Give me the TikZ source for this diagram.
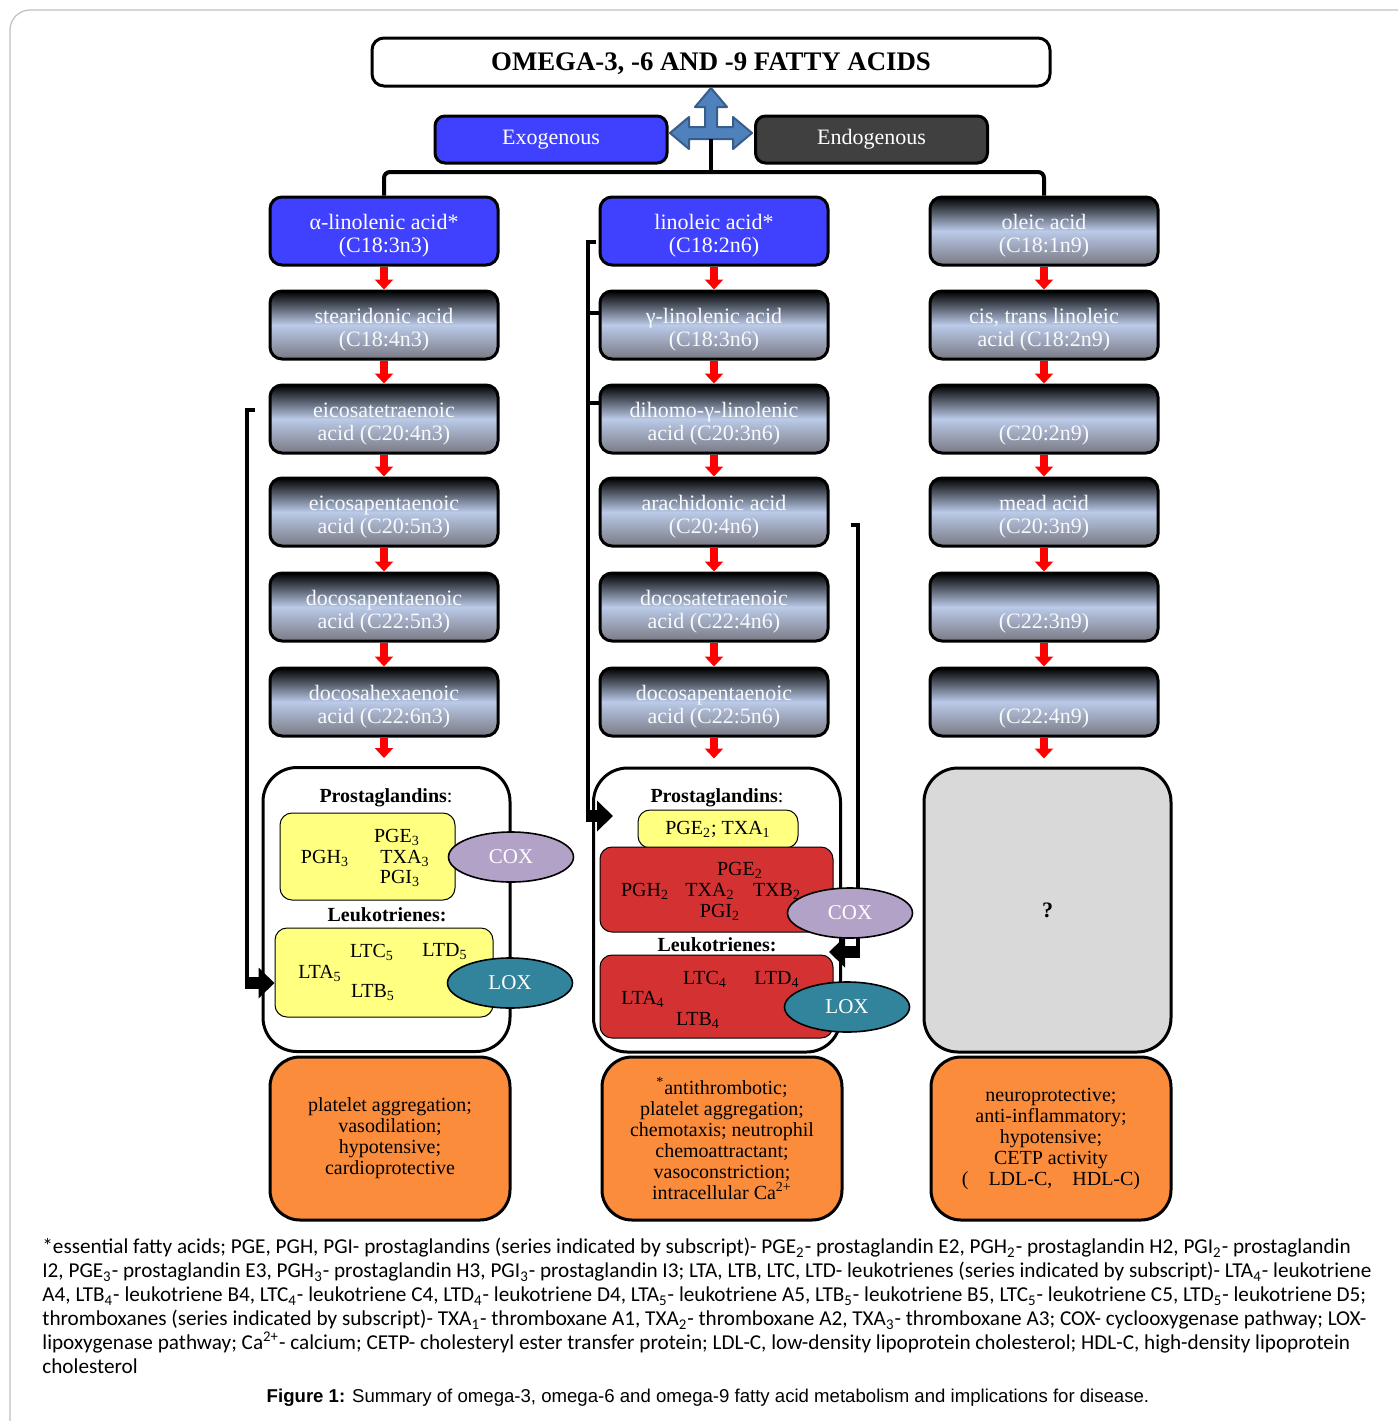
\documentclass[tikz,border=0pt]{standalone}
\usepackage{fontspec}
\setmainfont{Liberation Serif}
\newfontfamily\notefont{Carlito}
\newfontfamily\figfont{Liberation Sans}
\usetikzlibrary{arrows.meta,shapes.geometric}
\definecolor{exoblue}{RGB}{64,64,255}
\definecolor{endogray}{RGB}{64,64,64}
\definecolor{hubblue}{RGB}{79,129,189}
\definecolor{hubedge}{RGB}{56,93,138}
\definecolor{steelmid}{RGB}{186,202,232}
\definecolor{steelbot}{RGB}{122,122,132}
\definecolor{pgyellow}{RGB}{255,255,128}
\definecolor{pgred}{RGB}{212,50,50}
\definecolor{coxlilac}{RGB}{179,162,199}
\definecolor{loxteal}{RGB}{49,132,155}
\definecolor{effectorange}{RGB}{250,140,60}
\definecolor{qgray}{RGB}{217,217,217}
\definecolor{framegray}{RGB}{190,190,190}

\begin{document}
\begin{tikzpicture}[x=0.5pt,y=-0.5pt,
    every node/.style={font=\fontsize{11}{11.5}\selectfont},
    source/.style={draw,line width=1.5pt,rounded corners=5pt,
      minimum width=116pt,minimum height=23.5pt,text=white},
    acid/.style={draw,line width=1.5pt,rounded corners=6pt,align=center,
      minimum width=114pt,minimum height=34pt,inner sep=0pt,text=white,
      text height=23.5pt},
    steel/.style={acid,top color=black,bottom color=steelbot,
      middle color=steelmid,text=white!88!steelmid},
    redarr/.style={red,line width=4pt,-{Triangle[width=9pt,length=5pt]}},
    trunk/.style={line width=2pt,rounded corners=3pt},
    bracket/.style={line width=2pt},
    blockarr/.style={line width=6pt,-{Triangle[width=15pt,length=8pt]}},
    panel/.style={draw,line width=1.5pt,rounded corners=17pt,
      minimum width=123.5pt,minimum height=142pt,inner sep=0pt},
    well/.style={draw,line width=0.5pt,rounded corners=6pt,inner sep=0pt},
    ptext/.style={font=\fontsize{10}{12}\selectfont,inner sep=0pt},
    enzyme/.style={ellipse,draw,line width=0.8pt,minimum width=62.5pt,
      minimum height=25pt,inner sep=0pt,text=white,
      font=\fontsize{10.5}{12}\selectfont},
    effect/.style={draw,line width=1.5pt,fill=effectorange,rounded corners=15pt,
      minimum width=120pt,minimum height=81.5pt,align=center,
      font=\fontsize{10}{10.5}\selectfont}]
  \useasboundingbox (0,0) rectangle (1398,1421);
  \draw[framegray,line width=0.6pt,rounded corners=10pt]
    (10,1421) -- (10,10) -- (1398,10);

  % header
  \node[draw,line width=1.5pt,rounded corners=6pt,minimum width=339pt,
        minimum height=24pt,text depth=0pt,
        font=\bfseries\fontsize{13.4}{15}\selectfont]
    (title) at (711,62) {OMEGA-3, -6 AND -9 FATTY ACIDS};
  \draw[hubedge,fill=hubblue,line width=1pt,line join=round]
    (711,88) -- (727,107) -- (717,107) -- (717,127) -- (733,127)
    -- (733,117) -- (752,133) -- (733,149) -- (733,139) -- (689,139)
    -- (689,149) -- (670,133) -- (689,117) -- (689,127) -- (705,127)
    -- (705,107) -- (695,107) -- cycle;
  \coordinate (hub) at (711,139);
  \coordinate (fork) at (711,172);
  \node[source,fill=exoblue] (exo) at (551,139.5) {Exogenous};
  \node[source,fill=endogray] (endo) at (871.5,139.5) {Endogenous};

  % omega-3 column
  \node[acid,fill=exoblue] (l1) at (384,231) {α-linolenic acid*\\(C18:3n3)};
  \node[steel] (l2) at (384,325) {stearidonic acid\\(C18:4n3)};
  \node[steel] (l3) at (384,419) {eicosatetraenoic\\acid (C20:4n3)};
  \node[steel] (l4) at (384,512) {eicosapentaenoic\\acid (C20:5n3)};
  \node[steel] (l5) at (384,607) {docosapentaenoic\\acid (C22:5n3)};
  \node[steel] (l6) at (384,702) {docosahexaenoic\\acid (C22:6n3)};

  % omega-6 column
  \node[acid,fill=exoblue] (m1) at (714,231) {linoleic acid*\\(C18:2n6)};
  \node[steel] (m2) at (714,325) {γ-linolenic acid\\(C18:3n6)};
  \node[steel] (m3) at (714,419) {dihomo-γ-linolenic\\acid (C20:3n6)};
  \node[steel] (m4) at (714,512) {arachidonic acid\\(C20:4n6)};
  \node[steel] (m5) at (714,607) {docosatetraenoic\\acid (C22:4n6)};
  \node[steel] (m6) at (714,702) {docosapentaenoic\\acid (C22:5n6)};

  % omega-9 column
  \node[steel] (r1) at (1044,231) {oleic acid\\(C18:1n9)};
  \node[steel] (r2) at (1044,325) {cis, trans linoleic\\acid (C18:2n9)};
  \node[steel] (r3) at (1044,419) {\strut\\(C20:2n9)};
  \node[steel] (r4) at (1044,512) {mead acid\\(C20:3n9)};
  \node[steel] (r5) at (1044,607) {\strut\\(C22:3n9)};
  \node[steel] (r6) at (1044,702) {\strut\\(C22:4n9)};

  \draw[trunk] (hub) -- (fork);
  \draw[trunk] (l1.north) |- (fork) -| (r1.north);

  % products
  \node[panel] (lpan) at (386.5,909.5) {};
  \node[panel] (mpan) at (717,910) {};
  \node[panel,fill=qgray] (rpan) at (1047.5,910) {\textbf{?}};

  \draw[redarr] (l1.south) -- (l2.north);
  \draw[redarr] (l2.south) -- (l3.north);
  \draw[redarr] (l3.south) -- (l4.north);
  \draw[redarr] (l4.south) -- (l5.north);
  \draw[redarr] (l5.south) -- (l6.north);
  \draw[redarr,shorten >=4pt] (l6.south) -- (l6.south |- lpan.north);
  \draw[redarr] (m1.south) -- (m2.north);
  \draw[redarr] (m2.south) -- (m3.north);
  \draw[redarr] (m3.south) -- (m4.north);
  \draw[redarr] (m4.south) -- (m5.north);
  \draw[redarr] (m5.south) -- (m6.north);
  \draw[redarr,shorten >=4pt] (m6.south) -- (m6.south |- mpan.north);
  \draw[redarr] (r1.south) -- (r2.north);
  \draw[redarr] (r2.south) -- (r3.north);
  \draw[redarr] (r3.south) -- (r4.north);
  \draw[redarr] (r4.south) -- (r5.north);
  \draw[redarr] (r5.south) -- (r6.north);
  \draw[redarr,shorten >=4pt] (r6.south) -- (r6.south |- rpan.north);

  % omega-3 eicosanoids
  \node[ptext] (lph) at (386,798) {\textbf{Prostaglandins}:};
  \node[well,fill=pgyellow,minimum width=87.5pt,minimum height=43.5pt]
    (lpg) at (367.5,856.5) {};
  \node[ptext] (lpgh) at (325,858) {PGH\textsubscript{3}};
  \node[ptext] (lpge) at (397,837) {PGE\textsubscript{3}};
  \node[ptext] (ltxa) at (405,858) {TXA\textsubscript{3}};
  \node[ptext] (lpgi) at (400,878) {PGI\textsubscript{3}};
  \node[ptext] (llh) at (387,915) {\textbf{Leukotrienes:}};
  \node[well,fill=pgyellow,minimum width=109pt,minimum height=44.5pt]
    (llt) at (384,972.5) {};
  \node[ptext] (lltc) at (372,952) {LTC\textsubscript{5}};
  \node[ptext] (lltd) at (445,952) {LTD\textsubscript{5}};
  \node[ptext] (llta) at (320,973) {LTA\textsubscript{5}};
  \node[ptext] (lltb) at (373,993) {LTB\textsubscript{5}};

  % omega-6 eicosanoids
  \node[ptext] (mph) at (717,798) {\textbf{Prostaglandins}:};
  \node[well,fill=pgyellow,minimum width=80pt,minimum height=19pt,ptext]
    (mpg) at (718,829) {PGE\textsubscript{2}; TXA\textsubscript{1}};
  \node[well,fill=pgred,minimum width=116.5pt,minimum height=42.5pt]
    (mpr) at (716.5,889.5) {};
  \node[ptext] (mpge) at (740,870) {PGE\textsubscript{2}};
  \node[ptext] (mpgh) at (645,891) {PGH\textsubscript{2}};
  \node[ptext] (mtxa) at (710,891) {TXA\textsubscript{2}};
  \node[ptext] (mtxb) at (777,891) {TXB\textsubscript{2}};
  \node[ptext] (mpgi) at (720,912) {PGI\textsubscript{2}};
  \node[ptext] (mlh) at (717,945) {\textbf{Leukotrienes:}};
  \node[well,fill=pgred,minimum width=116.5pt,minimum height=41.5pt]
    (mlt) at (716.5,996.5) {};
  \node[ptext] (mltc) at (705,979) {LTC\textsubscript{4}};
  \node[ptext] (mltd) at (777,979) {LTD\textsubscript{4}};
  \node[ptext] (mlta) at (643,999) {LTA\textsubscript{4}};
  \node[ptext] (mltb) at (698,1020) {LTB\textsubscript{4}};

  % feeds into the pathways
  \coordinate (lbar) at (247,983);
  \draw[bracket] (l3.west) ++(-14,-9) -| (lbar);
  \draw[blockarr] ([xshift=-1pt]lbar) -- (lbar -| llt.west);
  \coordinate (mbar) at (588,816);
  \coordinate (mtip) at (613,816);
  \draw[bracket] (m1.west) ++(-3,11) -| (mbar);
  \draw[bracket] (m2.west) ++(0,-12) -- ++(-12,0);
  \draw[bracket] (m3.west) ++(0,-16) -- ++(-12,0);
  \draw[blockarr] ([xshift=-1pt]mbar) -- (mtip);
  \coordinate (mrbot) at (858,952);
  \coordinate (mrtip) at (829,952);
  \draw[bracket] (m4.east) ++(21,13) -| (mrbot);
  \draw[blockarr] ([xshift=1pt]mrbot) -- (mrtip);

  \node[enzyme,fill=coxlilac] (lcox) at (511,857) {COX};
  \node[enzyme,fill=loxteal] (llox) at (510,983) {LOX};
  \node[enzyme,fill=coxlilac] (mcox) at (850,913) {COX};
  \node[enzyme,fill=loxteal] (mlox) at (847,1007) {LOX};

  % effects
  \node[effect] (leff) at (390,1138.5)
    {platelet aggregation;\\vasodilation;\\hypotensive;\\cardioprotective};
  \node[effect] (meff) at (722,1138.5)
    {\textsuperscript{*}antithrombotic;\\platelet aggregation;\\
     chemotaxis; neutrophil\\chemoattractant;\\vasoconstriction;\\
     intracellular Ca\textsuperscript{2+}};
  \node[effect] (reff) at (1051,1138.5)
    {neuroprotective;\\anti-inflammatory;\\hypotensive;\\CETP activity\\
     (\quad LDL-C,\quad HDL-C)};

  % legend
  \node[anchor=north west,align=left,inner sep=0pt,
        font=\notefont\fontsize{10.6}{12}\selectfont] (notes) at (42,1238)
    {*essential fatty acids; PGE, PGH, PGI- prostaglandins (series indicated by subscript)- PGE\textsubscript{2}- prostaglandin E2, PGH\textsubscript{2}- prostaglandin H2, PGI\textsubscript{2}- prostaglandin\\
     I2, PGE\textsubscript{3}- prostaglandin E3, PGH\textsubscript{3}- prostaglandin H3, PGI\textsubscript{3}- prostaglandin I3; LTA, LTB, LTC, LTD- leukotrienes (series indicated by subscript)- LTA\textsubscript{4}- leukotriene\\
     A4, LTB\textsubscript{4}- leukotriene B4, LTC\textsubscript{4}- leukotriene C4, LTD\textsubscript{4}- leukotriene D4, LTA\textsubscript{5}- leukotriene A5, LTB\textsubscript{5}- leukotriene B5, LTC\textsubscript{5}- leukotriene C5, LTD\textsubscript{5}- leukotriene D5;\\
     thromboxanes (series indicated by subscript)- TXA\textsubscript{1}- thromboxane A1, TXA\textsubscript{2}- thromboxane A2, TXA\textsubscript{3}- thromboxane A3; COX- cyclooxygenase pathway; LOX-\\
     lipoxygenase pathway; Ca\textsuperscript{2+}- calcium; CETP- cholesteryl ester transfer protein; LDL-C, low-density lipoprotein cholesterol; HDL-C, high-density lipoprotein\\
     cholesterol};
  \node[font=\figfont\fontsize{9.3}{11}\selectfont] (fig) at (708,1398)
    {\textbf{Figure 1:} Summary of omega-3, omega-6 and omega-9 fatty acid metabolism and implications for disease.};
\end{tikzpicture}
\end{document}
